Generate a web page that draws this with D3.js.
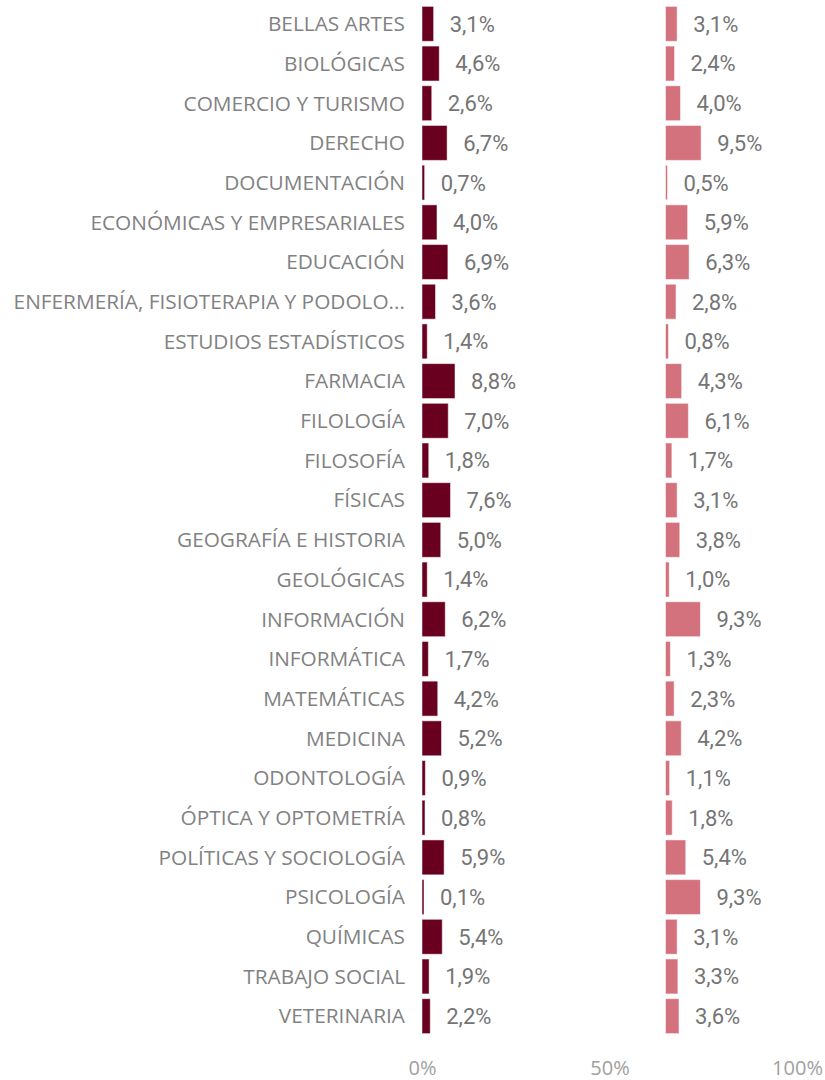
<!DOCTYPE html>
<html>
<head>
<meta charset="utf-8">
<script src="https://cdn.jsdelivr.net/npm/d3@7"></script>
<style>
  body { margin: 0; background: #fff; }
  svg { display: block; }
</style>
</head>
<body>
<div id="chart"></div>
<script>
const categories = [
    "BELLAS ARTES", "BIOLÓGICAS", "COMERCIO Y TURISMO", "DERECHO", "DOCUMENTACIÓN",
    "ECONÓMICAS Y EMPRESARIALES", "EDUCACIÓN", "ENFERMERÍA, FISIOTERAPIA Y PODOLO...",
    "ESTUDIOS ESTADÍSTICOS", "FARMACIA", "FILOLOGÍA", "FILOSOFÍA", "FÍSICAS",
    "GEOGRAFÍA E HISTORIA", "GEOLÓGICAS", "INFORMACIÓN", "INFORMÁTICA", "MATEMÁTICAS",
    "MEDICINA", "ODONTOLOGÍA", "ÓPTICA Y OPTOMETRÍA", "POLÍTICAS Y SOCIOLOGÍA",
    "PSICOLOGÍA", "QUÍMICAS", "TRABAJO SOCIAL", "VETERINARIA"
];

// share per faculty (%), left and right series
const seriesA = [3.1, 4.6, 2.6, 6.7, 0.7, 4.0, 6.9, 3.6, 1.4, 8.8, 7.0, 1.8, 7.6, 5.0, 1.4, 6.2, 1.7, 4.2, 5.2, 0.9, 0.8, 5.9, 0.1, 5.4, 1.9, 2.2];
const seriesB = [3.1, 2.4, 4.0, 9.5, 0.5, 5.9, 6.3, 2.8, 0.8, 4.3, 6.1, 1.7, 3.1, 3.8, 1.0, 9.3, 1.3, 2.3, 4.2, 1.1, 1.8, 5.4, 9.3, 3.1, 3.3, 3.6];

const axisTicks = [0, 50, 100];

const COLORS = {
    barA: "#6a0020",
    barB: "#d3727d",
    label: "#828282",
    value: "#757575",
    axis: "#a0a0a0"
};

const width = 825, height = 1080;

const svg = d3.select("#chart")
    .append("svg")
    .attr("width", width)
    .attr("height", height);

// shared percent scale, second column is offset
const x = d3.scaleLinear().domain([0, 100]).range([422, 797]);
const colStart = [x(0), 665.5];

const y = d3.scaleBand()
    .domain(categories)
    .range([4, 1036])
    .paddingInner(0.12)
    .paddingOuter(0.06);

const es = d3.formatLocale({ decimal: ",", thousands: ".", grouping: [3], currency: ["", "€"] });
const fmt = v => es.format(".1f")(v) + "%";

// category labels
svg.append("g")
    .selectAll("text")
    .data(categories)
    .enter()
    .append("text")
    .attr("x", 405)
    .attr("y", d => y(d) + y.bandwidth() / 2)
    .attr("dy", "0.35em")
    .attr("text-anchor", "end")
    .attr("fill", COLORS.label)
    .style("font-family", "'Open Sans', sans-serif")
    .style("font-size", "20.8px")
    .text(d => d);

function drawSeries(values, start, color) {
    const g = svg.append("g");
    const rows = values.map((v, i) => ({ cat: categories[i], v }));

    g.selectAll("rect")
        .data(rows)
        .enter()
        .append("rect")
        .attr("x", start)
        .attr("y", d => y(d.cat))
        .attr("width", d => Math.max(2, x(d.v) - x(0)))
        .attr("height", y.bandwidth())
        .attr("fill", color)
        .attr("stroke", "#fff")
        .attr("stroke-opacity", 0.5)
        .attr("stroke-width", 1);

    g.selectAll("text")
        .data(rows)
        .enter()
        .append("text")
        .attr("x", d => start + Math.max(2, x(d.v) - x(0)) + 16)
        .attr("y", d => y(d.cat) + y.bandwidth() / 2)
        .attr("dy", "0.36em")
        .attr("fill", COLORS.value)
        .style("font-family", "Roboto, sans-serif")
        .style("font-size", "22px")
        .text(d => fmt(d.v));
}

drawSeries(seriesA, colStart[0], COLORS.barA);
drawSeries(seriesB, colStart[1], COLORS.barB);

// bottom axis
const axis = svg.append("g")
    .attr("transform", "translate(0,1068)")
    .call(d3.axisBottom(x).tickValues(axisTicks).tickFormat(d => d + "%").tickSize(0).tickPadding(0));
axis.select(".domain").remove();
axis.selectAll("text")
    .attr("dy", "0.35em")
    .attr("fill", COLORS.axis)
    .style("font-family", "'Open Sans', sans-serif")
    .style("font-size", "20px");
</script>
</body>
</html>
